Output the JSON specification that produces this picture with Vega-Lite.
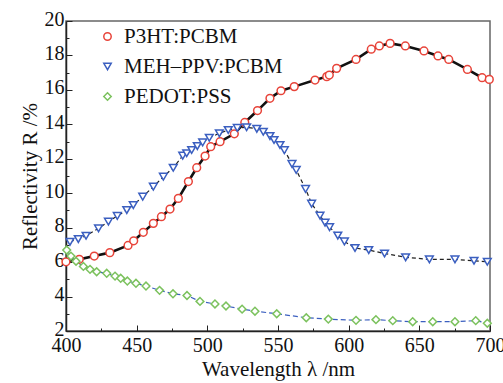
{
  "$schema": "https://vega.github.io/schema/vega-lite/v6.json",
  "width": 424,
  "height": 310,
  "autosize": {"type": "none"},
  "padding": {"left": 66, "top": 21, "right": 13, "bottom": 52},
  "background": "white",
  "config": {
    "view": {"stroke": "#666", "strokeWidth": 1.5},
    "font": "'Liberation Serif', 'Times New Roman', Times, 'DejaVu Serif', serif",
    "axis": {
      "grid": false,
      "domainColor": "#222",
      "domainWidth": 1.5,
      "tickColor": "#222",
      "tickWidth": 1,
      "labelFont": "'Liberation Serif', 'Times New Roman', Times, 'DejaVu Serif', serif",
      "labelFontSize": 20,
      "labelColor": "#111",
      "labelFlush": false,
      "titleFont": "'Liberation Serif', 'Times New Roman', Times, 'DejaVu Serif', serif",
      "titleFontSize": 21,
      "titleFontWeight": "normal",
      "titleColor": "#111"
    }
  },
  "datasets": {
    "d": [
      {"s": "P3HT:PCBM", "x": 400, "y": 6.02},
      {"s": "P3HT:PCBM", "x": 409.4, "y": 6.16},
      {"s": "P3HT:PCBM", "x": 420, "y": 6.35},
      {"s": "P3HT:PCBM", "x": 431, "y": 6.55},
      {"s": "P3HT:PCBM", "x": 443.9, "y": 6.97},
      {"s": "P3HT:PCBM", "x": 447.9, "y": 7.24},
      {"s": "P3HT:PCBM", "x": 454.7, "y": 7.73},
      {"s": "P3HT:PCBM", "x": 461.8, "y": 8.25},
      {"s": "P3HT:PCBM", "x": 467.5, "y": 8.64},
      {"s": "P3HT:PCBM", "x": 473.6, "y": 9.08},
      {"s": "P3HT:PCBM", "x": 479.5, "y": 9.7},
      {"s": "P3HT:PCBM", "x": 486.6, "y": 10.68},
      {"s": "P3HT:PCBM", "x": 492.5, "y": 11.48},
      {"s": "P3HT:PCBM", "x": 498.4, "y": 12.16},
      {"s": "P3HT:PCBM", "x": 502.4, "y": 12.7},
      {"s": "P3HT:PCBM", "x": 509, "y": 12.99},
      {"s": "P3HT:PCBM", "x": 519.1, "y": 13.45},
      {"s": "P3HT:PCBM", "x": 526.5, "y": 14.11},
      {"s": "P3HT:PCBM", "x": 535.5, "y": 14.8},
      {"s": "P3HT:PCBM", "x": 544.3, "y": 15.51},
      {"s": "P3HT:PCBM", "x": 552.1, "y": 15.95},
      {"s": "P3HT:PCBM", "x": 561.5, "y": 16.19},
      {"s": "P3HT:PCBM", "x": 576.2, "y": 16.57},
      {"s": "P3HT:PCBM", "x": 584.5, "y": 16.77},
      {"s": "P3HT:PCBM", "x": 586.3, "y": 16.86},
      {"s": "P3HT:PCBM", "x": 591.5, "y": 17.25},
      {"s": "P3HT:PCBM", "x": 605.2, "y": 17.77},
      {"s": "P3HT:PCBM", "x": 616, "y": 18.36},
      {"s": "P3HT:PCBM", "x": 621.7, "y": 18.55},
      {"s": "P3HT:PCBM", "x": 629.3, "y": 18.7},
      {"s": "P3HT:PCBM", "x": 640.1, "y": 18.55},
      {"s": "P3HT:PCBM", "x": 653.3, "y": 18.26},
      {"s": "P3HT:PCBM", "x": 663.2, "y": 17.97},
      {"s": "P3HT:PCBM", "x": 670.8, "y": 17.77},
      {"s": "P3HT:PCBM", "x": 684, "y": 17.19},
      {"s": "P3HT:PCBM", "x": 694.4, "y": 16.71},
      {"s": "P3HT:PCBM", "x": 699.5, "y": 16.61},

      {"s": "MEH–PPV:PCBM", "x": 402.8, "y": 7.18},
      {"s": "MEH–PPV:PCBM", "x": 408.7, "y": 7.34},
      {"s": "MEH–PPV:PCBM", "x": 414.2, "y": 7.53},
      {"s": "MEH–PPV:PCBM", "x": 423, "y": 7.96},
      {"s": "MEH–PPV:PCBM", "x": 430, "y": 8.35},
      {"s": "MEH–PPV:PCBM", "x": 436.3, "y": 8.68},
      {"s": "MEH–PPV:PCBM", "x": 443, "y": 9.02},
      {"s": "MEH–PPV:PCBM", "x": 447.6, "y": 9.31},
      {"s": "MEH–PPV:PCBM", "x": 454.3, "y": 9.8},
      {"s": "MEH–PPV:PCBM", "x": 461.8, "y": 10.38},
      {"s": "MEH–PPV:PCBM", "x": 468.9, "y": 10.96},
      {"s": "MEH–PPV:PCBM", "x": 475.9, "y": 11.48},
      {"s": "MEH–PPV:PCBM", "x": 482.6, "y": 12.18},
      {"s": "MEH–PPV:PCBM", "x": 485.4, "y": 12.32},
      {"s": "MEH–PPV:PCBM", "x": 488.9, "y": 12.51},
      {"s": "MEH–PPV:PCBM", "x": 492.9, "y": 12.74},
      {"s": "MEH–PPV:PCBM", "x": 496.7, "y": 12.95},
      {"s": "MEH–PPV:PCBM", "x": 501.4, "y": 13.22},
      {"s": "MEH–PPV:PCBM", "x": 508.5, "y": 13.48},
      {"s": "MEH–PPV:PCBM", "x": 514.8, "y": 13.67},
      {"s": "MEH–PPV:PCBM", "x": 521.2, "y": 13.79},
      {"s": "MEH–PPV:PCBM", "x": 527.8, "y": 13.83},
      {"s": "MEH–PPV:PCBM", "x": 535, "y": 13.74},
      {"s": "MEH–PPV:PCBM", "x": 539.6, "y": 13.57},
      {"s": "MEH–PPV:PCBM", "x": 544.3, "y": 13.32},
      {"s": "MEH–PPV:PCBM", "x": 547.2, "y": 13.09},
      {"s": "MEH–PPV:PCBM", "x": 551.4, "y": 12.8},
      {"s": "MEH–PPV:PCBM", "x": 554.5, "y": 12.5},
      {"s": "MEH–PPV:PCBM", "x": 559.9, "y": 11.7},
      {"s": "MEH–PPV:PCBM", "x": 562.9, "y": 11.35},
      {"s": "MEH–PPV:PCBM", "x": 569.5, "y": 10.25},
      {"s": "MEH–PPV:PCBM", "x": 573.8, "y": 9.39},
      {"s": "MEH–PPV:PCBM", "x": 579.7, "y": 8.7},
      {"s": "MEH–PPV:PCBM", "x": 583.3, "y": 8.29},
      {"s": "MEH–PPV:PCBM", "x": 586.5, "y": 8.03},
      {"s": "MEH–PPV:PCBM", "x": 592.3, "y": 7.54},
      {"s": "MEH–PPV:PCBM", "x": 597, "y": 7.2},
      {"s": "MEH–PPV:PCBM", "x": 604.5, "y": 6.82},
      {"s": "MEH–PPV:PCBM", "x": 614.2, "y": 6.7},
      {"s": "MEH–PPV:PCBM", "x": 625.4, "y": 6.5},
      {"s": "MEH–PPV:PCBM", "x": 640.3, "y": 6.28},
      {"s": "MEH–PPV:PCBM", "x": 657.1, "y": 6.16},
      {"s": "MEH–PPV:PCBM", "x": 675.2, "y": 6.16},
      {"s": "MEH–PPV:PCBM", "x": 688.7, "y": 6.08},
      {"s": "MEH–PPV:PCBM", "x": 698.1, "y": 6.02},

      {"s": "PEDOT:PSS", "x": 400.5, "y": 6.7},
      {"s": "PEDOT:PSS", "x": 403.5, "y": 6.35},
      {"s": "PEDOT:PSS", "x": 407.1, "y": 6.05},
      {"s": "PEDOT:PSS", "x": 412.3, "y": 5.75},
      {"s": "PEDOT:PSS", "x": 417, "y": 5.58},
      {"s": "PEDOT:PSS", "x": 421.7, "y": 5.44},
      {"s": "PEDOT:PSS", "x": 428.8, "y": 5.35},
      {"s": "PEDOT:PSS", "x": 434.7, "y": 5.19},
      {"s": "PEDOT:PSS", "x": 438.7, "y": 5.06},
      {"s": "PEDOT:PSS", "x": 443.4, "y": 4.9},
      {"s": "PEDOT:PSS", "x": 449.5, "y": 4.77},
      {"s": "PEDOT:PSS", "x": 456.6, "y": 4.61},
      {"s": "PEDOT:PSS", "x": 466.2, "y": 4.36},
      {"s": "PEDOT:PSS", "x": 475.7, "y": 4.16},
      {"s": "PEDOT:PSS", "x": 485.6, "y": 4.06},
      {"s": "PEDOT:PSS", "x": 494.8, "y": 3.72},
      {"s": "PEDOT:PSS", "x": 505.4, "y": 3.57},
      {"s": "PEDOT:PSS", "x": 513.2, "y": 3.45},
      {"s": "PEDOT:PSS", "x": 524.6, "y": 3.27},
      {"s": "PEDOT:PSS", "x": 533.7, "y": 3.15},
      {"s": "PEDOT:PSS", "x": 549.1, "y": 3.0},
      {"s": "PEDOT:PSS", "x": 570, "y": 2.77},
      {"s": "PEDOT:PSS", "x": 585.6, "y": 2.69},
      {"s": "PEDOT:PSS", "x": 605.2, "y": 2.62},
      {"s": "PEDOT:PSS", "x": 619.3, "y": 2.66},
      {"s": "PEDOT:PSS", "x": 631.2, "y": 2.6},
      {"s": "PEDOT:PSS", "x": 645.3, "y": 2.54},
      {"s": "PEDOT:PSS", "x": 659.5, "y": 2.54},
      {"s": "PEDOT:PSS", "x": 675.2, "y": 2.54},
      {"s": "PEDOT:PSS", "x": 689.9, "y": 2.6},
      {"s": "PEDOT:PSS", "x": 698.1, "y": 2.45}
    ]
  },
  "data": {"name": "d"},
  "encoding": {
    "x": {
      "field": "x", "type": "quantitative",
      "scale": {"domain": [400, 700], "nice": false, "zero": false},
      "axis": {
        "title": "Wavelength λ /nm",
        "values": [400, 425, 450, 475, 500, 525, 550, 575, 600, 625, 650, 675, 700],
        "labelExpr": "datum.value % 50 === 0 ? datum.value : ''",
        "tickSize": {"condition": {"test": "datum.value % 50 === 0", "value": -6}, "value": -3},
        "labelPadding": 10,
        "titlePadding": 3
      }
    },
    "y": {
      "field": "y", "type": "quantitative",
      "scale": {"domain": [2, 20], "nice": false, "zero": false},
      "axis": {
        "title": "Reflectivity R /%",
        "values": [2, 3, 4, 5, 6, 7, 8, 9, 10, 11, 12, 13, 14, 15, 16, 17, 18, 19, 20],
        "labelExpr": "datum.value % 2 === 0 ? datum.value : ''",
        "tickSize": {"condition": {"test": "datum.value % 2 === 0", "value": -6}, "value": -3},
        "labelPadding": 8,
        "labelOffset": -2,
        "titlePadding": 4
      }
    }
  },
  "layer": [
    {
      "transform": [{"filter": "datum.s === 'PEDOT:PSS'"}],
      "mark": {"type": "line", "color": "#3b5fc0", "strokeWidth": 1.2, "strokeDash": [5, 3]},
      "encoding": {}
    },
    {
      "transform": [{"filter": "datum.s === 'MEH–PPV:PCBM'"}],
      "mark": {"type": "line", "color": "#222", "strokeWidth": 1.2, "strokeDash": [4, 3]},
      "encoding": {}
    },
    {
      "transform": [{"filter": "datum.s === 'P3HT:PCBM'"}],
      "mark": {"type": "line", "color": "#111", "strokeWidth": 2.6},
      "encoding": {}
    },
    {
      "mark": {"type": "point", "filled": false, "fill": "white", "size": 60, "strokeWidth": 1.5, "opacity": 1},
      "encoding": {
        "color": {
          "field": "s", "type": "nominal",
          "scale": {"domain": ["P3HT:PCBM", "MEH–PPV:PCBM", "PEDOT:PSS"], "range": ["#e8443a", "#3b5fc0", "#7cc25e"]},
          "legend": {
            "orient": "none", "legendX": 31, "legendY": 5, "title": null,
            "labelFont": "'Liberation Serif', 'Times New Roman', Times, 'DejaVu Serif', serif", "labelFontSize": 21, "labelColor": "#111",
            "symbolSize": 55, "symbolStrokeWidth": 1.5, "rowPadding": 8, "labelOffset": 6
          }
        },
        "shape": {
          "field": "s", "type": "nominal",
          "scale": {"domain": ["P3HT:PCBM", "MEH–PPV:PCBM", "PEDOT:PSS"], "range": ["circle", "triangle-down", "diamond"]},
          "legend": null
        }
      }
    }
  ]
}
